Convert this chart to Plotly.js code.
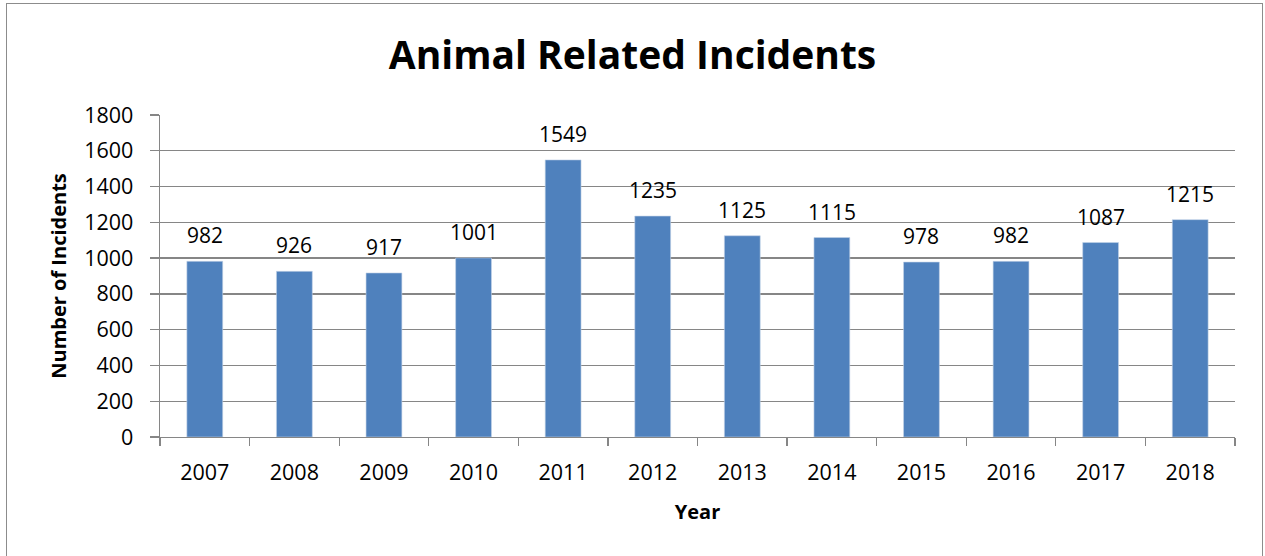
<!DOCTYPE html>
<html>
<head>
<meta charset="utf-8">
<script src="https://cdn.plot.ly/plotly-3.0.1.min.js"></script>
<style>
  html, body { margin: 0; padding: 0; background: #fff; }
  #wrap { position: relative; width: 1265px; height: 556px; }
  #chart { width: 1265px; height: 556px; }
  #frame {
    position: absolute; left: 6px; top: 3px; width: 1257px; height: 560px;
    border: 1.5px solid #8c8c8c; pointer-events: none; box-sizing: border-box;
  }
</style>
</head>
<body>
<div id="wrap">
  <div id="chart"></div>
  <div id="frame"></div>
</div>
<script>
// Yearly counts of animal related incidents
const years = ['2007', '2008', '2009', '2010', '2011', '2012', '2013', '2014', '2015', '2016', '2017', '2018'];
const incidents = [982, 926, 917, 1001, 1549, 1235, 1125, 1115, 978, 982, 1087, 1215];
const yTicks = [0, 200, 400, 600, 800, 1000, 1200, 1400, 1600, 1800];

const FONT = 'Open Sans, Noto Sans, sans-serif';
const GRID = '#868686';

const bars = {
  type: 'bar',
  x: years,
  y: incidents,
  marker: { color: '#4F81BD', line: { color: '#c5d3e8', width: 0.6 } },
  hoverinfo: 'x+y'
};

// value labels sitting above each bar (x given as category index)
const valueLabels = years.map((yr, i) => ({
  x: i, y: incidents[i], text: String(incidents[i]),
  xref: 'x', yref: 'y', showarrow: false,
  yanchor: 'bottom', yshift: 10,
  font: { family: FONT, size: 21, color: '#000' }
}));

const layout = {
  width: 1265, height: 556,
  margin: { l: 160, r: 30, t: 115, b: 119 },
  paper_bgcolor: '#fff', plot_bgcolor: '#fff',
  showlegend: false,
  bargap: 0.6,
  title: {
    text: '<b>Animal Related Incidents</b>',
    font: { family: FONT, size: 39, color: '#000' },
    x: 0.5, xanchor: 'center', y: 0.9, yanchor: 'middle'
  },
  xaxis: {
    type: 'category',
    range: [-0.5, years.length - 0.5],
    showline: true, linecolor: GRID, linewidth: 1.3,
    ticks: 'outside', tickson: 'boundaries', ticklen: 8, tickcolor: GRID, tickwidth: 1.3,
    showgrid: false,
    tickangle: 0,
    tickfont: { family: FONT, size: 21.5, color: '#000' },
    ticklabelstandoff: 16,
    title: { text: '<b>Year</b>', font: { family: FONT, size: 20, color: '#000' }, standoff: 20 }
  },
  yaxis: {
    range: [0, 1800],
    tickvals: yTicks,
    showline: true, linecolor: GRID, linewidth: 1.3,
    ticks: 'outside', ticklen: 9, tickcolor: GRID, tickwidth: 1.3,
    showgrid: true, gridcolor: GRID, gridwidth: 1.3,
    zeroline: false,
    tickfont: { family: FONT, size: 21.5, color: '#000' },
    ticklabelstandoff: 12,
    title: { text: '<b>Number of Incidents</b>', font: { family: FONT, size: 20, color: '#000' }, standoff: 12 }
  },
  annotations: valueLabels
};

Plotly.newPlot('chart', [bars], layout, { displayModeBar: false, staticPlot: true });
</script>
</body>
</html>
